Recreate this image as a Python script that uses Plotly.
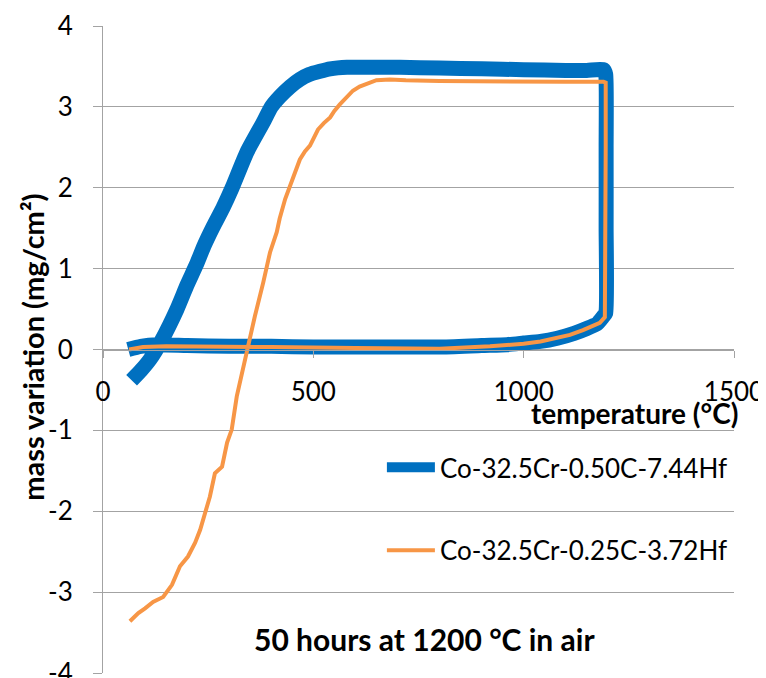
import plotly.graph_objects as go

# ---- data ----
blue_name = "Co-32.5Cr-0.50C-7.44Hf"
blue_temp = [60, 90, 130, 200, 300, 400, 500, 600, 700, 800, 900, 960, 1000, 1040, 1080,
             1120, 1150, 1175, 1188, 1195, 1196, 1196, 1195, 1190, 1150, 1100, 1000, 900,
             800, 706, 640, 580, 540, 516, 490, 468, 445, 421, 400, 381, 342, 307, 285,
             262, 240, 222, 200, 176, 140, 112, 90, 68]
blue_mass = [0.00, 0.04, 0.06, 0.05, 0.04, 0.04, 0.03, 0.03, 0.03, 0.03, 0.05, 0.06, 0.08,
             0.10, 0.14, 0.20, 0.26, 0.32, 0.40, 0.45, 1.50, 2.50, 3.40, 3.46, 3.45, 3.45,
             3.46, 3.47, 3.48, 3.49, 3.49, 3.49, 3.47, 3.44, 3.40, 3.34, 3.25, 3.13, 3.00,
             2.81, 2.44, 2.00, 1.75, 1.52, 1.28, 1.05, 0.80, 0.50, 0.12, -0.12, -0.26, -0.38]

orange_name = "Co-32.5Cr-0.25C-3.72Hf"
orange_temp = [62, 95, 150, 250, 400, 600, 800, 920, 1000, 1040, 1080, 1110, 1141, 1165,
               1181, 1193, 1195, 1195, 1195, 1190, 1100, 1000, 900, 800, 720, 682, 650, 627,
               610, 594, 578, 563, 550, 540, 525, 511, 492, 480, 468, 449, 433, 420, 413,
               397, 389, 381, 361, 345, 330, 318, 306, 295, 283, 266, 254, 243, 231, 219,
               202, 183, 164, 143, 119, 100, 84, 64]
orange_mass = [0.00, 0.03, 0.04, 0.04, 0.03, 0.02, 0.01, 0.04, 0.07, 0.10, 0.14, 0.18, 0.24,
               0.29, 0.33, 0.40, 1.50, 2.50, 3.30, 3.31, 3.31, 3.31, 3.32, 3.32, 3.33, 3.34,
               3.33, 3.28, 3.25, 3.20, 3.12, 3.03, 2.95, 2.87, 2.80, 2.72, 2.52, 2.45, 2.35,
               2.10, 1.86, 1.62, 1.45, 1.20, 0.99, 0.83, 0.41, 0.04, -0.33, -0.58, -0.99,
               -1.15, -1.45, -1.53, -1.82, -2.02, -2.23, -2.39, -2.56, -2.68, -2.91, -3.06,
               -3.12, -3.20, -3.26, -3.36]

x_ticks = [0, 500, 1000, 1500]
x_tick_labels = ["0", "500", "1000", "1500"]
y_ticks = [-4, -3, -2, -1, 0, 1, 2, 3, 4]
y_tick_labels = ["-4", "-3", "-2", "-1", "0", "1", "2", "3", "4"]

x_title = "temperature (°C)"
y_title = "mass variation (mg/cm²)"
chart_note = "50 hours at 1200 °C in air"

# ---- styles ----
FONT = "Lato, 'Open Sans', sans-serif"
GRID = "#A3A3A3"
BLUE = "#0070C0"
ORANGE = "#F79646"

fig = go.Figure()
fig.add_trace(go.Scatter(x=blue_temp, y=blue_mass, mode="lines", name=blue_name,
                         legendgroup="a",
                         line=dict(color=BLUE, width=15, shape="spline", smoothing=0.5)))
fig.add_trace(go.Scatter(x=orange_temp, y=orange_mass, mode="lines", name=orange_name,
                         legendgroup="b", line=dict(color=ORANGE, width=4)))

# page body has an 8px margin, so the figure is 8px smaller and margins shifted
fig.update_layout(
    width=758, height=670,
    margin=dict(l=95, r=32, t=18, b=5, autoexpand=False),
    paper_bgcolor="white", plot_bgcolor="white",
    font=dict(family=FONT, size=26, color="#000000"),
    showlegend=True,
    legend=dict(x=0.442, y=0.354, xanchor="left", yanchor="top", itemwidth=48,
                bgcolor="rgba(0,0,0,0)", font=dict(family=FONT, size=26, color="#000000"),
                traceorder="grouped", tracegroupgap=46),
    xaxis=dict(range=[0, 1500], tickvals=x_ticks, ticktext=x_tick_labels,
               ticks="outside", ticklen=7, ticklabeloverflow="allow", automargin=False,
               tickcolor=GRID, showgrid=False, showline=True, linecolor=GRID, linewidth=1,
               zeroline=False, anchor="free", position=0.5,
               tickfont=dict(family=FONT, size=26, color="#000000"), ticklabelstandoff=12),
    yaxis=dict(range=[-4, 4], tickvals=y_ticks, ticktext=y_tick_labels,
               ticks="outside", ticklen=9, ticklabeloverflow="allow", automargin=False,
               tickcolor=GRID, showgrid=True, gridcolor=GRID, gridwidth=1,
               showline=True, linecolor=GRID, linewidth=1, zeroline=False,
               tickfont=dict(family=FONT, size=26, color="#000000"), ticklabelstandoff=15),
    annotations=[
        dict(text="<b>" + x_title + "</b>", xref="paper", yref="paper", x=1.0095, y=0.402,
             xanchor="right", yanchor="middle", showarrow=False,
             font=dict(family=FONT, size=28, color="#000000")),
        dict(text="<b>" + y_title + "</b>", xref="paper", yref="paper", x=-0.111, y=0.504,
             xanchor="center", yanchor="middle", textangle=-90, showarrow=False,
             font=dict(family=FONT, size=29, color="#000000")),
        dict(text="<b>" + chart_note + "</b>", xref="paper", yref="paper", x=0.509, y=0.052,
             xanchor="center", yanchor="middle", showarrow=False,
             font=dict(family=FONT, size=30, color="#000000")),
    ],
)

fig.write_html("out.html")
